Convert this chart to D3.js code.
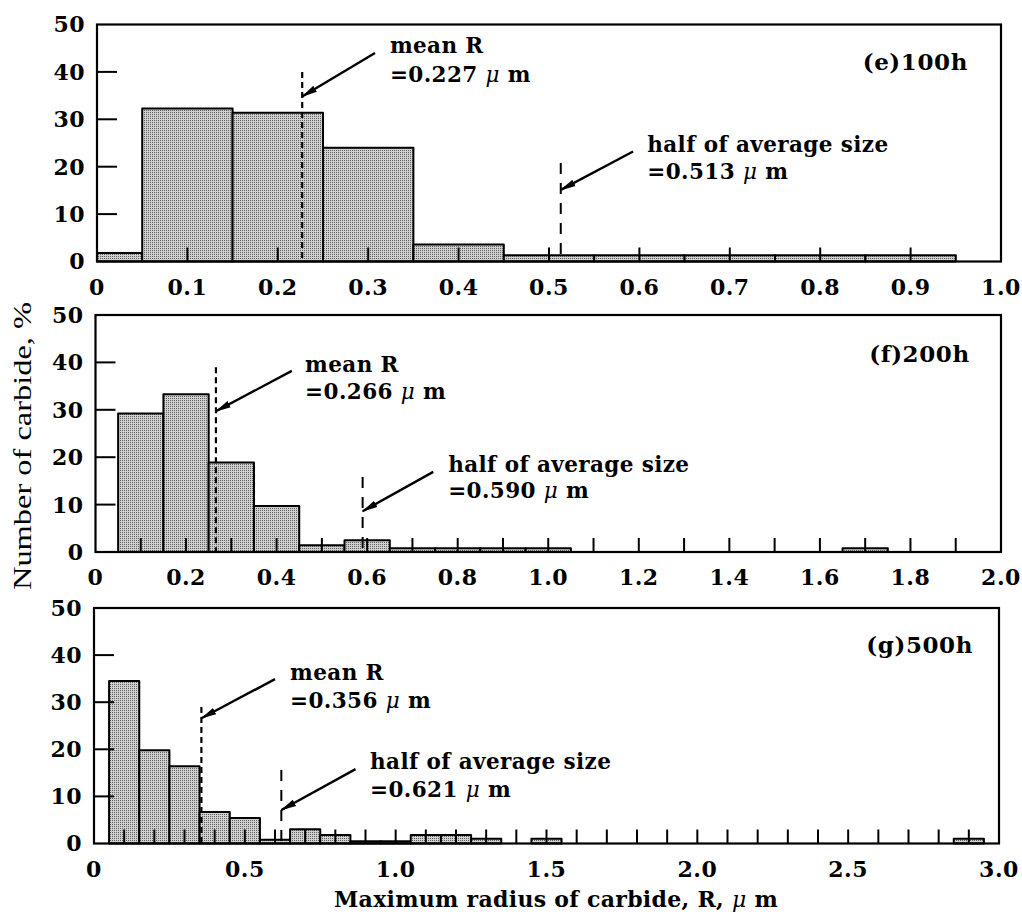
<!DOCTYPE html>
<html><head><meta charset="utf-8">
<script src="https://cdn.jsdelivr.net/npm/d3@7"></script>
<style>body{margin:0;background:#fff}</style>
</head><body>
<svg id="c" width="1022" height="920"></svg>
<script>
// ---- data ----
const yTickValues = [0, 10, 20, 30, 40, 50];

const eCenters = [0, 0.1, 0.2, 0.3, 0.4, 0.5, 0.6, 0.7, 0.8, 0.9];
const eValues  = [1.8, 32.3, 31.4, 24.0, 3.6, 1.3, 1.3, 1.3, 1.3, 1.3];
const eXLabels = [0, 0.1, 0.2, 0.3, 0.4, 0.5, 0.6, 0.7, 0.8, 0.9, 1.0];

const fCenters = [0.1, 0.2, 0.3, 0.4, 0.5, 0.6, 0.7, 0.8, 0.9, 1.0, 1.7];
const fValues  = [29.2, 33.3, 18.9, 9.7, 1.4, 2.5, 0.8, 0.8, 0.8, 0.8, 0.8];
const fXLabels = [0, 0.2, 0.4, 0.6, 0.8, 1.0, 1.2, 1.4, 1.6, 1.8, 2.0];

const gCenters = [0.1, 0.2, 0.3, 0.4, 0.5, 0.6, 0.7, 0.8, 0.9, 1.0, 1.1, 1.2, 1.3, 1.5, 2.9];
const gValues  = [34.5, 19.8, 16.4, 6.7, 5.4, 0.8, 3.0, 1.8, 0.5, 0.5, 1.8, 1.8, 1.0, 1.0, 1.0];
const gXLabels = [0, 0.5, 1.0, 1.5, 2.0, 2.5, 3.0];

const meanR = [0.227, 0.266, 0.356];
const halfAvg = [0.513, 0.590, 0.621];
const panelLabels = ["(e)100h", "(f)200h", "(g)500h"];

// ---- layout ----
const panels = [
  {centers: eCenters, values: eValues, xMax: 1, labels: eXLabels, minor: 0.1,
   box: [97, 1001, 24.5, 261.5],
   meanTop: 40, meanArrow: [[0.3075, 44.0], [0.227, 34.8]], meanText: [0.324, 43.9, 37.9],
   halfTop: 20.8, halfArrow: [[0.593, 23.2], [0.513, 15.1]], halfText: [0.6087, 23.2, 17.4],
   labelPos: [0.9635, 40.4]},
  {centers: fCenters, values: fValues, xMax: 2, labels: fXLabels, minor: 0.1,
   box: [95.5, 1001, 315, 552],
   meanTop: 39, meanArrow: [[0.4336, 38.2], [0.266, 29.7]], meanText: [0.463, 38.0, 32.3],
   halfTop: 15.8, halfArrow: [[0.746, 16.9], [0.590, 8.6]], halfText: [0.779, 16.9, 11.3],
   labelPos: [1.931, 40.1]},
  {centers: gCenters, values: gValues, xMax: 3, labels: gXLabels, minor: 0.1,
   box: [94, 999, 608, 843.5],
   meanTop: 29, meanArrow: [[0.600, 34.9], [0.356, 26.6]], meanText: [0.650, 34.7, 28.8],
   halfTop: 15.6, halfArrow: [[0.867, 15.8], [0.621, 7.1]], halfText: [0.915, 15.8, 9.9],
   labelPos: [2.914, 40.5]}
];

const svg = d3.select("#c");
const defs = svg.append("defs");
const pat = defs.append("pattern").attr("id", "stip").attr("patternUnits", "userSpaceOnUse")
  .attr("width", 2).attr("height", 2);
pat.append("rect").attr("width", 2).attr("height", 2).attr("fill", "#d0d0d0");
pat.append("rect").attr("width", 1).attr("height", 1).attr("fill", "#606060");

defs.append("marker").attr("id", "arr").attr("markerUnits", "userSpaceOnUse")
  .attr("viewBox", "0 0 16 8").attr("refX", 15).attr("refY", 4)
  .attr("markerWidth", 16).attr("markerHeight", 8).attr("orient", "auto")
  .append("path").attr("d", "M0,0.5 L16,4 L0,7.5 Z").attr("fill", "#000");

const FONT = "'DejaVu Serif', serif";

panels.forEach((p, i) => {
  const [x0, x1, yTop, yBot] = p.box;
  const x = d3.scaleLinear().domain([0, p.xMax]).range([x0, x1]);
  const y = d3.scaleLinear().domain([0, 50]).range([yBot, yTop]);
  const g = svg.append("g");

  // bars
  const bins = p.centers.map((c, k) => ({a: Math.max(0, c - 0.05), b: c + 0.05, v: p.values[k]}));
  g.selectAll("rect.bar").data(bins).join("rect").attr("class", "bar")
    .attr("x", d => x(d.a)).attr("width", d => x(d.b) - x(d.a))
    .attr("y", d => y(d.v)).attr("height", d => y(0) - y(d.v))
    .attr("fill", "url(#stip)").attr("stroke", "#000").attr("stroke-width", 2)
    .attr("stroke-linejoin", "round");

  // minor x ticks (inward)
  const minorTicks = d3.range(1, Math.round(p.xMax / p.minor)).map(k => k * p.minor);
  g.selectAll("line.xt").data(minorTicks).join("line")
    .attr("x1", d => x(d)).attr("x2", d => x(d))
    .attr("y1", y(0)).attr("y2", y(0) - 14)
    .attr("stroke", "#000").attr("stroke-width", 2);

  // y ticks (inward)
  g.selectAll("line.yt").data(yTickValues.slice(1, -1)).join("line")
    .attr("x1", x0).attr("x2", x0 + 20)
    .attr("y1", d => y(d)).attr("y2", d => y(d))
    .attr("stroke", "#000").attr("stroke-width", 2);

  // frame
  g.append("rect").attr("x", x0).attr("y", yTop).attr("width", x1 - x0).attr("height", yBot - yTop)
    .attr("fill", "none").attr("stroke", "#000").attr("stroke-width", 2.2);

  // y tick labels
  g.selectAll("text.yl").data(yTickValues).join("text")
    .attr("x", x0 - 12).attr("y", d => y(d)).attr("dy", "0.36em")
    .attr("text-anchor", "end").attr("font-family", FONT).attr("font-weight", "bold")
    .attr("font-size", 22).attr("letter-spacing", 0.5).text(d => d);

  // x tick labels
  const fmt = v => v === 0 ? "0" : d3.format(".1f")(v);
  g.selectAll("text.xl").data(p.labels).join("text")
    .attr("x", d => x(d)).attr("y", yBot + 33)
    .attr("text-anchor", "middle").attr("font-family", FONT).attr("font-weight", "bold")
    .attr("font-size", 22).attr("letter-spacing", 0.5).text(fmt);

  // mean line
  g.append("line").attr("x1", x(meanR[i])).attr("x2", x(meanR[i]))
    .attr("y1", y(p.meanTop)).attr("y2", y(0))
    .attr("stroke", "#000").attr("stroke-width", 2.2).attr("stroke-dasharray", "6,4");
  // half line
  g.append("line").attr("x1", x(halfAvg[i])).attr("x2", x(halfAvg[i]))
    .attr("y1", y(p.halfTop)).attr("y2", y(0))
    .attr("stroke", "#000").attr("stroke-width", 2).attr("stroke-dasharray", "11,9");

  // arrows
  [p.meanArrow, p.halfArrow].forEach(a => {
    g.append("line").attr("x1", x(a[0][0])).attr("y1", y(a[0][1]))
      .attr("x2", x(a[1][0])).attr("y2", y(a[1][1]))
      .attr("stroke", "#000").attr("stroke-width", 2.4).attr("marker-end", "url(#arr)");
  });

  // annotation texts
  const ann = (tx, l1, val) => {
    const t = g.append("text").attr("font-family", FONT).attr("font-weight", "bold")
      .attr("font-size", 21.5).attr("letter-spacing", 0.4);
    t.append("tspan").attr("x", x(tx[0])).attr("y", y(tx[1])).text(l1);
    const t2 = t.append("tspan").attr("x", x(tx[0])).attr("y", y(tx[2]));
    t2.append("tspan").text("=" + d3.format(".3f")(val) + " ");
    t2.append("tspan").attr("font-style", "italic").attr("font-weight", "normal").text("μ");
    t2.append("tspan").text(" m");
  };
  ann(p.meanText, "mean R", meanR[i]);
  ann(p.halfText, "half of average size", halfAvg[i]);

  // panel label
  g.append("text").attr("x", x(p.labelPos[0])).attr("y", y(p.labelPos[1]))
    .attr("text-anchor", "end").attr("font-family", FONT).attr("font-weight", "bold")
    .attr("font-size", 23).attr("letter-spacing", 0.6).text(panelLabels[i]);
});

// axis titles
svg.append("text").attr("transform", "translate(31,446) rotate(-90)")
  .attr("text-anchor", "middle").attr("font-family", "'Liberation Serif', serif")
  .attr("font-size", 26).attr("textLength", 288).attr("lengthAdjust", "spacingAndGlyphs")
  .text("Number of carbide, %");

const xt = svg.append("text").attr("x", 556).attr("y", 907).attr("text-anchor", "middle")
  .attr("font-family", FONT).attr("font-weight", "bold").attr("font-size", 22).attr("letter-spacing", 0.3);
xt.append("tspan").text("Maximum radius of carbide, R,  ");
xt.append("tspan").attr("font-style", "italic").attr("font-weight", "normal").text("μ");
xt.append("tspan").text(" m");
</script>
</body></html>
